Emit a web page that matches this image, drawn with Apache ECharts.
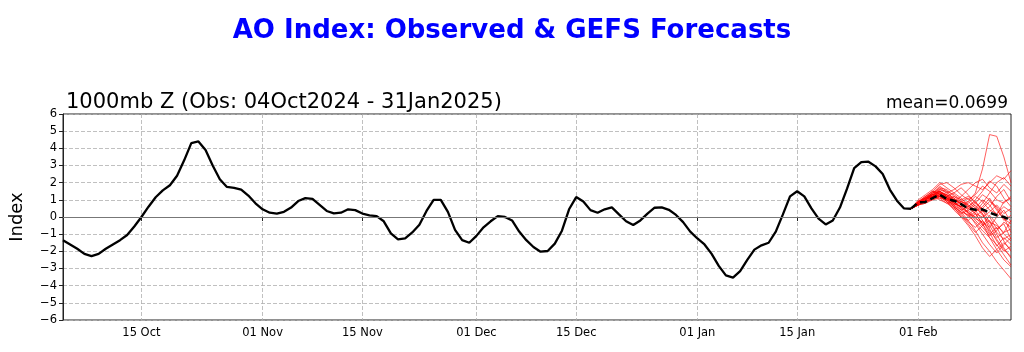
<!DOCTYPE html>
<html>
<head>
<meta charset="utf-8">
<script src="https://cdn.jsdelivr.net/npm/echarts@6/dist/echarts.min.js"></script>
<style>
html,body{margin:0;padding:0;background:#fff;}
#c{width:1024px;height:352px;}
</style>
</head>
<body>
<div id="c"></div>
<script>
// ---- data ----
const startDate = '2024-10-04';
const nDays = 134; // 04 Oct 2024 .. 14 Feb 2025
const tickLabels = ['15 Oct','01 Nov','15 Nov','01 Dec','15 Dec','01 Jan','15 Jan','01 Feb'];
const yTicks = [-6,-5,-4,-3,-2,-1,0,1,2,3,4,5,6];

// observed AO (daily, 04 Oct 2024 - 31 Jan 2025)
const observed = [
 -1.35,-1.6,-1.85,-2.15,-2.28,-2.15,-1.85,-1.6,-1.35,-1.05,
 -0.55,0.0,0.6,1.15,1.55,1.85,2.4,3.3,4.3,4.4,
 3.9,3.0,2.2,1.75,1.7,1.6,1.25,0.8,0.45,0.25,
 0.2,0.3,0.55,0.93,1.1,1.05,0.7,0.35,0.21,0.25,
 0.45,0.4,0.2,0.1,0.05,-0.25,-0.95,-1.3,-1.24,-0.9,
 -0.45,0.35,1.0,1.0,0.3,-0.75,-1.35,-1.5,-1.1,-0.6,
 -0.25,0.05,0.0,-0.2,-0.85,-1.35,-1.75,-2.02,-1.98,-1.55,
 -0.8,0.45,1.16,0.9,0.4,0.25,0.45,0.56,0.15,-0.25,
 -0.47,-0.2,0.2,0.54,0.56,0.42,0.12,-0.3,-0.85,-1.25,
 -1.6,-2.15,-2.85,-3.4,-3.53,-3.15,-2.5,-1.9,-1.65,-1.5,
 -0.85,0.15,1.2,1.5,1.2,0.5,-0.1,-0.43,-0.2,0.55,
 1.65,2.85,3.2,3.22,2.95,2.5,1.6,0.95,0.5,0.48
];

// GEFS ensemble mean (31 Jan - 14 Feb)
const ensMean = [0.5,0.85,0.88,1.1,1.3,1.05,0.95,0.75,0.5,0.42,0.45,0.25,0.1,0.0,-0.2];

// GEFS members (31 Jan - 14 Feb)
const m01 = [0.5,0.8,1.0,1.2,1.5,1.2,1.0,0.8,0.9,1.4,2.8,4.8,4.7,3.5,2.0];
const m02 = [0.5,0.9,1.1,1.4,1.6,1.4,1.6,1.9,2.0,1.8,1.6,2.0,2.4,2.2,2.7];
const m03 = [0.5,0.7,0.9,1.1,1.3,1.0,0.7,0.4,0.1,-0.3,-0.8,-1.2,-1.6,-2.2,-2.8];
const m04 = [0.5,0.8,1.0,1.3,1.2,0.9,0.6,0.3,-0.2,-0.8,-1.5,-2.0,-2.6,-3.1,-3.6];
const m05 = [0.5,0.9,1.2,1.5,1.9,2.0,1.7,1.3,1.0,1.3,1.8,1.5,1.0,0.8,1.2];
const m06 = [0.5,0.7,0.8,1.0,1.1,0.8,0.5,0.2,0.4,0.0,-0.5,-0.2,-0.9,-1.3,-1.0];
const m07 = [0.5,0.8,1.1,1.2,1.4,1.1,0.9,0.5,0.0,0.3,0.6,1.1,0.5,-0.2,0.1];
const m08 = [0.5,0.9,1.0,1.3,1.1,1.0,1.2,1.0,0.6,0.2,-0.4,-1.0,-0.6,-1.4,-2.0];
const m09 = [0.5,0.7,1.0,1.4,1.5,1.3,0.8,0.6,0.8,1.2,0.9,0.4,0.2,0.6,0.3];
const m10 = [0.5,0.8,0.9,1.1,1.3,1.2,0.7,0.2,-0.3,-0.6,-0.2,-0.9,-1.7,-1.2,-1.6];
const m11 = [0.5,0.9,1.1,1.2,1.0,0.8,0.9,1.2,1.6,2.0,2.2,1.7,1.4,1.9,1.5];
const m12 = [0.5,0.8,1.0,1.3,1.4,1.1,0.9,0.5,0.3,-0.2,-0.6,-1.1,-0.8,-0.3,-0.6];
const m13 = [0.5,0.7,0.9,1.2,1.6,1.5,1.0,0.8,0.2,0.0,0.4,-0.3,-1.0,-1.8,-2.4];
const m14 = [0.5,0.8,1.1,1.3,1.7,1.4,1.1,0.7,0.5,0.8,1.3,1.0,0.4,-0.1,-0.4];
const m15 = [0.5,0.9,1.0,1.2,1.3,1.0,0.6,0.3,0.1,0.5,0.2,-0.5,-1.2,-0.9,-0.2];
const m16 = [0.5,0.7,0.8,1.1,1.2,1.0,0.9,0.6,0.2,-0.4,-1.0,-1.6,-2.1,-1.6,-1.2];
const m17 = [0.5,0.8,1.0,1.4,1.8,1.5,1.3,1.0,1.2,0.9,0.3,0.6,1.2,1.6,0.9];
const m18 = [0.5,0.9,1.2,1.3,1.2,0.9,0.5,0.1,-0.4,-0.9,-0.5,0.1,-0.4,-1.0,-1.4];
const m19 = [0.5,0.7,1.0,1.2,1.4,1.3,1.1,0.8,0.4,0.7,0.2,-0.7,-1.4,-2.0,-1.7];
const m20 = [0.5,0.8,1.1,1.3,1.5,1.2,0.8,0.4,0.6,1.0,1.5,2.1,1.8,1.1,0.6];
const m21 = [0.5,0.9,0.9,1.1,1.2,1.1,0.8,0.6,0.3,-0.1,-0.3,-0.6,0.0,0.4,-0.3];
const m22 = [0.5,0.8,1.1,1.5,1.4,1.0,0.7,0.9,1.1,0.6,0.1,-0.3,-0.5,-0.9,-0.7];
const m23 = [0.5,0.7,1.0,1.2,1.3,1.1,0.6,0.0,-0.5,-1.1,-1.8,-2.3,-1.9,-2.5,-2.9];
const m24 = [0.5,0.8,1.0,1.2,1.4,1.3,1.0,0.9,0.7,0.3,0.8,1.4,2.0,2.3,1.8];
const m25 = [0.5,0.9,1.1,1.3,1.5,1.2,1.0,0.7,0.5,0.2,0.0,0.3,0.7,0.2,0.5];
const m26 = [0.5,1.0,1.3,1.6,2.0,1.7,1.4,1.1,0.7,0.4,-0.2,-0.8,-1.3,-1.9,-2.3];
const m27 = [0.5,0.8,1.2,1.5,1.3,1.2,1.4,1.7,1.3,0.8,0.5,0.9,0.6,0.0,-0.9];
const m28 = [0.5,0.7,0.9,1.0,1.2,0.9,0.4,0.0,-0.2,0.2,-0.4,-1.2,-1.9,-1.5,-1.9];
const m29 = [0.5,0.9,1.1,1.4,1.7,1.6,1.2,0.9,0.6,0.9,0.4,0.0,-0.7,-0.4,-1.3];
const m30 = [0.5,0.8,1.0,1.3,1.5,1.1,0.8,0.6,0.9,0.5,1.0,0.7,0.1,0.9,1.1];
const members = [m01,m02,m03,m04,m05,m06,m07,m08,m09,m10,m11,m12,m13,m14,m15,m16,m17,m18,m19,m20,m21,m22,m23,m24,m25,m26,m27,m28,m29,m30];

const titleText = 'AO Index: Observed & GEFS Forecasts';
const subText = '1000mb Z (Obs: 04Oct2024 - 31Jan2025)';
const meanText = 'mean=0.0699';

// ---- build categories ----
const MON = ['Jan','Feb','Mar','Apr','May','Jun','Jul','Aug','Sep','Oct','Nov','Dec'];
const categories = [];
{
  const d0 = new Date(startDate + 'T00:00:00Z');
  for (let i = 0; i < nDays; i++) {
    const d = new Date(d0.getTime() + i * 86400000);
    const dd = String(d.getUTCDate()).padStart(2,'0');
    categories.push(dd + ' ' + MON[d.getUTCMonth()]);
  }
}
const fcStart = observed.length - 1;
const padFc = arr => Array(fcStart).fill(null).concat(arr);
const isTick = (idx, val) => tickLabels.indexOf(val) >= 0;

const FONT = 'DejaVu Sans';
const series = [];
series.push({
  type: 'line', data: observed, symbol: 'none', z: 3,
  lineStyle: { color: '#000', width: 2.3 },
  markLine: {
    silent: true, symbol: 'none', label: { show: false },
    lineStyle: { color: '#777', type: 'solid', width: 1 },
    data: [{ yAxis: 0 }]
  }
});
members.forEach(m => series.push({
  type: 'line', data: padFc(m), symbol: 'none', z: 4,
  lineStyle: { color: 'rgba(255,0,0,0.7)', width: 0.9 }
}));
series.push({
  type: 'line', data: padFc(ensMean), symbol: 'none', z: 5,
  lineStyle: { color: '#000', width: 2.5, type: [7,4] }
});

const chart = echarts.init(document.getElementById('c'), null, { renderer: 'canvas' });
chart.setOption({
  animation: false,
  backgroundColor: '#fff',
  textStyle: { fontFamily: FONT },
  title: [
    { text: titleText, left: 'center', top: 13,
      textStyle: { color: '#0000ff', fontSize: 26, fontWeight: 'bold', fontFamily: FONT } },
    { text: subText, left: 61, top: 87,
      textStyle: { color: '#000', fontSize: 21, fontWeight: 'normal', fontFamily: FONT } },
    { text: meanText, right: 11, top: 90,
      textStyle: { color: '#000', fontSize: 17, fontWeight: 'normal', fontFamily: FONT } }
  ],
  grid: { left: 63, right: 13, top: 114, bottom: 32, show: true, borderColor: '#222', borderWidth: 1, backgroundColor: 'transparent' },
  xAxis: {
    type: 'category', data: categories, boundaryGap: false,
    axisLine: { show: true, lineStyle: { color: '#222', width: 1 } },
    axisTick: { show: true, interval: isTick, length: 4, lineStyle: { color: '#222' } },
    axisLabel: { show: true, interval: isTick, margin: 7, color: '#000', fontSize: 11.5, fontFamily: FONT },
    splitLine: { show: true, interval: isTick, lineStyle: { color: '#b0b0b0', type: [4,2], width: 0.8 } }
  },
  yAxis: {
    type: 'value', min: yTicks[0], max: yTicks[yTicks.length-1], interval: 1,
    name: 'Index', nameLocation: 'middle', nameGap: 37, nameRotate: 90,
    nameTextStyle: { fontSize: 18, color: '#000', fontFamily: FONT },
    axisLine: { show: true, lineStyle: { color: '#222', width: 1 } },
    axisTick: { show: true, length: 4, lineStyle: { color: '#222' } },
    axisLabel: { margin: 6, color: '#000', fontSize: 11.5, fontFamily: FONT,
      formatter: v => String(v).replace('-', '\u2212') },
    splitLine: { show: true, lineStyle: { color: '#b0b0b0', type: [4,2], width: 0.8 } }
  },
  series: series
});
</script>
</body>
</html>
